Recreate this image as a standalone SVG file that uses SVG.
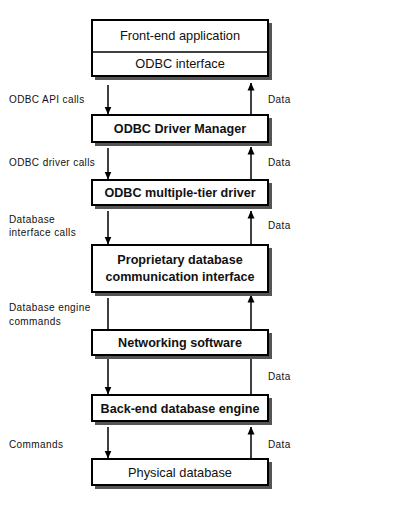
<svg xmlns="http://www.w3.org/2000/svg" width="409" height="528" viewBox="0 0 409 528">
<style>
.box{fill:#fff;stroke:#000;stroke-width:2}
.sh{fill:#555}
.t{font-family:"Liberation Sans",Arial,sans-serif;font-size:12.8px;fill:#111;text-anchor:middle}
.b{font-weight:bold;font-size:12.6px}
.l{font-family:"Liberation Sans",Arial,sans-serif;font-size:10px;fill:#111;letter-spacing:0.4px}
.c{stroke:#000;stroke-width:1.5;fill:none}
</style>
<defs>
<marker id="ah" viewBox="0 0 8 8" refX="7.5" refY="4" markerWidth="8" markerHeight="8" markerUnits="userSpaceOnUse" orient="auto">
<path d="M0,0.5 L8,4 L0,7.5 z" fill="#000"/>
</marker>
</defs>
<rect width="409" height="528" fill="#fff"/>
<g id="connectors">
<line class="c" x1="108" y1="85" x2="108" y2="114" marker-end="url(#ah)"/>
<line class="c" x1="251" y1="114" x2="251" y2="83" marker-end="url(#ah)"/>
<line class="c" x1="108" y1="148" x2="108" y2="179" marker-end="url(#ah)"/>
<line class="c" x1="251" y1="179" x2="251" y2="147" marker-end="url(#ah)"/>
<line class="c" x1="108" y1="211" x2="108" y2="244" marker-end="url(#ah)"/>
<line class="c" x1="251" y1="244" x2="251" y2="211" marker-end="url(#ah)"/>
<line class="c" x1="108" y1="298" x2="108" y2="394" marker-end="url(#ah)"/>
<line class="c" x1="251" y1="394" x2="251" y2="295" marker-end="url(#ah)"/>
<line class="c" x1="108" y1="427" x2="108" y2="458" marker-end="url(#ah)"/>
<line class="c" x1="251" y1="458" x2="251" y2="427" marker-end="url(#ah)"/>
</g>
<g id="labels">
<text class="l" x="9" y="103">ODBC API calls</text>
<text class="l" x="268" y="103">Data</text>
<text class="l" x="9" y="166">ODBC driver calls</text>
<text class="l" x="268" y="166">Data</text>
<text class="l" x="9" y="223">Database</text>
<text class="l" x="9" y="236">interface calls</text>
<text class="l" x="268" y="229">Data</text>
<text class="l" x="9" y="311">Database engine</text>
<text class="l" x="9" y="325">commands</text>
<text class="l" x="268" y="380">Data</text>
<text class="l" x="9" y="448">Commands</text>
<text class="l" x="268" y="448">Data</text>
</g>
<g id="front-end">
<rect class="sh" x="95" y="23" width="177" height="57"/>
<rect class="box" x="92" y="20" width="176" height="56"/>
<line x1="92" y1="52" x2="268" y2="52" stroke="#000" stroke-width="1.5"/>
<text class="t" x="180" y="40">Front-end application</text>
<text class="t" x="180" y="68">ODBC interface</text>
</g>
<g id="driver-manager">
<rect class="sh" x="95" y="118" width="177" height="28"/>
<rect class="box" x="92" y="115" width="176" height="27"/>
<text class="t b" x="180" y="133">ODBC Driver Manager</text>
</g>
<g id="multi-tier-driver">
<rect class="sh" x="95" y="183" width="177" height="26"/>
<rect class="box" x="92" y="180" width="176" height="25"/>
<text class="t b" x="180" y="197">ODBC multiple-tier driver</text>
</g>
<g id="proprietary">
<rect class="sh" x="95" y="248" width="177" height="48"/>
<rect class="box" x="92" y="245" width="176" height="47"/>
<text class="t b" x="180" y="264">Proprietary database</text>
<text class="t b" x="180" y="281">communication interface</text>
</g>
<g id="networking">
<rect class="sh" x="95" y="333" width="177" height="26"/>
<rect class="box" x="92" y="330" width="176" height="25"/>
<text class="t b" x="180" y="347">Networking software</text>
</g>
<g id="back-end">
<rect class="sh" x="95" y="398" width="177" height="27"/>
<rect class="box" x="92" y="395" width="176" height="26"/>
<text class="t b" x="180" y="413">Back-end database engine</text>
</g>
<g id="physical">
<rect class="sh" x="95" y="462" width="177" height="27"/>
<rect class="box" x="92" y="459" width="176" height="26"/>
<text class="t" x="180" y="477">Physical database</text>
</g>
</svg>
